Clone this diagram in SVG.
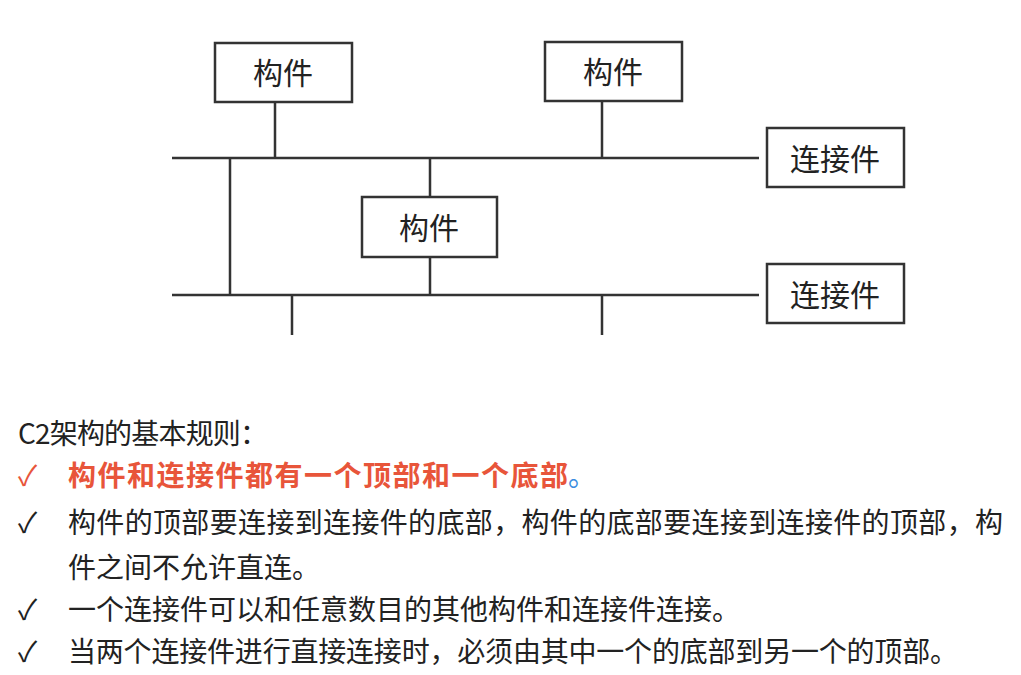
<svg xmlns="http://www.w3.org/2000/svg" width="1021" height="675" viewBox="0 0 1021 675">
<style>
.box{fill:#fff;stroke:#333;stroke-width:2.5}
.bl{font-family:"Noto Sans CJK SC",sans-serif;font-size:30px;fill:#222;text-anchor:middle;dominant-baseline:central}
.ln{stroke:#333;stroke-width:2.5;fill:none}
.t{font-family:"Noto Sans CJK SC",sans-serif;font-size:28px;fill:#222}
</style>
<rect width="1021" height="675" fill="#fff"/>
<g id="connectors">
<path class="ln" d="M172 158H759M172 295H759M275 102V158M602 101V158M230 158V295M430 158V197M430 257V295M292 295V335M602 295V335"/>
</g>
<g id="comp1"><rect class="box" x="215" y="43" width="137" height="59"/><text class="bl" x="283" y="71">构件</text></g>
<g id="comp2"><rect class="box" x="545" y="42" width="137" height="59"/><text class="bl" x="613" y="70">构件</text></g>
<g id="comp3"><rect class="box" x="362" y="197" width="135" height="60"/><text class="bl" x="429" y="226">构件</text></g>
<g id="conn1"><rect class="box" x="767" y="128" width="137" height="59"/><text class="bl" x="835" y="157">连接件</text></g>
<g id="conn2"><rect class="box" x="767" y="264" width="137" height="59"/><text class="bl" x="835" y="293">连接件</text></g>
<g id="text">
<text class="t" x="18" y="444" textLength="250">C2架构的基本规则：</text>
<text class="t" x="18" y="486" fill="#e8553a" style="fill:#e8553a">✓</text>
<text class="t" x="68" y="486" style="fill:#e8553a;font-weight:bold" textLength="500">构件和连接件都有一个顶部和一个底部</text>
<text class="t" x="568" y="486" style="fill:#3a8de0">。</text>
<text class="t" x="18" y="533">✓</text>
<text class="t" x="68" y="533" textLength="935">构件的顶部要连接到连接件的底部，构件的底部要连接到连接件的顶部，构</text>
<text class="t" x="68" y="578">件之间不允许直连。</text>
<text class="t" x="18" y="620">✓</text>
<text class="t" x="68" y="620" textLength="672">一个连接件可以和任意数目的其他构件和连接件连接。</text>
<text class="t" x="18" y="662">✓</text>
<text class="t" x="68" y="662" textLength="890">当两个连接件进行直接连接时，必须由其中一个的底部到另一个的顶部。</text>
</g>
</svg>
